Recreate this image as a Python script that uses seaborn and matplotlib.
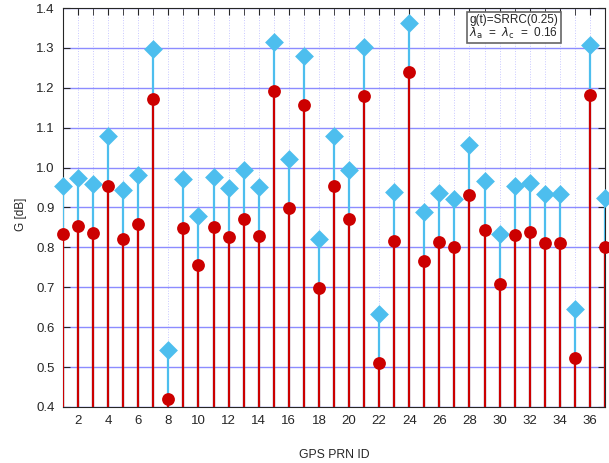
import numpy as np
import pandas as pd
import matplotlib
matplotlib.use("Agg")
import matplotlib.pyplot as plt
import seaborn as sns
from matplotlib.ticker import MultipleLocator, FormatStrFormatter

prn = list(range(1, 38))
g_upper = [0.955, 0.975, 0.958, 1.078, 0.944, 0.982, 1.297, 0.544, 0.972, 0.879,
           0.976, 0.950, 0.995, 0.951, 1.316, 1.022, 1.279, 0.820, 1.078, 0.993,
           1.302, 0.633, 0.938, 1.363, 0.888, 0.936, 0.922, 1.056, 0.966, 0.833,
           0.955, 0.961, 0.935, 0.935, 0.645, 1.307, 0.923]
g_lower = [0.833, 0.853, 0.836, 0.955, 0.821, 0.859, 1.173, 0.421, 0.849, 0.756,
           0.852, 0.826, 0.872, 0.828, 1.193, 0.899, 1.156, 0.697, 0.955, 0.870,
           1.179, 0.510, 0.815, 1.239, 0.765, 0.813, 0.800, 0.932, 0.843, 0.709,
           0.832, 0.838, 0.812, 0.812, 0.522, 1.183, 0.800]

blue = "#4DBEEE"
red = "#CC0000"

sns.set_style("ticks")
plt.rcParams["font.family"] = ["Liberation Sans", "DejaVu Sans"]
plt.rcParams["mathtext.fontset"] = "dejavusans"

df = pd.DataFrame({"prn": prn, "upper": g_upper, "lower": g_lower})

fig = plt.figure(figsize=(6.09, 4.63), dpi=100)
ax = fig.add_axes([0.1034, 0.121, 0.8900, 0.8617])

base = 0.4
ax.vlines(df["prn"], base, df["upper"], color=blue, lw=1.6, zorder=3)
ax.vlines(df["prn"], base, df["lower"], color=red, lw=1.6, zorder=4)
sns.scatterplot(data=df, x="prn", y="upper", marker="D", s=92, color=blue,
                edgecolor=blue, linewidth=0, ax=ax, zorder=5, clip_on=False)
sns.scatterplot(data=df, x="prn", y="lower", marker="o", s=85, color=red,
                edgecolor=red, linewidth=0, ax=ax, zorder=6, clip_on=False)

ax.set_xlim(1, 37)
ax.set_ylim(0.4, 1.4)
ax.xaxis.set_major_locator(MultipleLocator(2))
ax.xaxis.set_minor_locator(MultipleLocator(1))
ax.xaxis.set_major_formatter(FormatStrFormatter("%d"))
ax.yaxis.set_major_locator(MultipleLocator(0.1))
ax.yaxis.set_major_formatter(FormatStrFormatter("%.1f"))

ax.grid(axis="y", which="major", color="#8C8CFF", lw=1.0, zorder=0)
ax.grid(axis="x", which="both", color="#C8C8FF", lw=0.7, ls=":", zorder=0)
ax.set_axisbelow(True)

ax.tick_params(which="both", direction="in", top=True, right=True,
               labelsize=9.5, colors="#262626", pad=6)
ax.tick_params(which="major", length=5)
ax.tick_params(which="minor", length=5)
for sp in ax.spines.values():
    sp.set_color("#262626")
    sp.set_linewidth(0.8)

ax.set_xlabel("GPS PRN ID", fontsize=8.8)
ax.xaxis.set_label_coords(0.5, -0.105)
ax.set_ylabel("G [dB]", fontsize=8.5, va="center")
ax.yaxis.set_label_coords(-0.0775, 0.484)

ax.text(0.750, 0.986,
        "g(t)=SRRC(0.25)\n" + r"$\lambda_{\rm a}$  =  $\lambda_{\rm c}$  =  0.16",
        transform=ax.transAxes, ha="left", va="top", fontsize=8.5, zorder=10,
        linespacing=1.0,
        bbox=dict(boxstyle="square,pad=0.2", fc="white", ec="#666666", lw=1.2))

fig.savefig("out.png", dpi=100)
